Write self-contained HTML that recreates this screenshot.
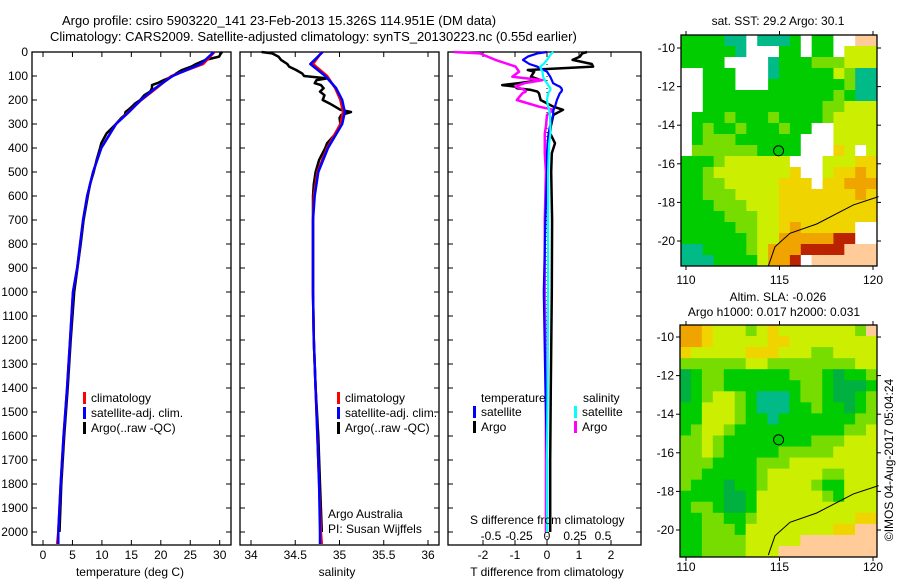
<!DOCTYPE html>
<html><head><meta charset="utf-8">
<style>
html,body{margin:0;padding:0;background:#fff;}
svg{display:block;font-family:"Liberation Sans",sans-serif;}
text{font-size:12px;fill:#000;}
</style></head>
<body>
<svg id="fig" width="900" height="580" viewBox="0 0 900 580" xmlns="http://www.w3.org/2000/svg">
<text x="62" y="25" style="font-size:13px">Argo profile: csiro 5903220_141 23-Feb-2013 15.326S 114.951E (DM data)</text>
<text x="50" y="41" style="font-size:13px">Climatology: CARS2009. Satellite-adjusted climatology: synTS_20130223.nc (0.55d earlier)</text>
<text x="778" y="25" text-anchor="middle">sat. SST: 29.2  Argo: 30.1</text>
<text x="778" y="301" text-anchor="middle">Altim. SLA: -0.026</text>
<text x="774" y="316" text-anchor="middle">Argo h1000: 0.017 h2000: 0.031</text>
<text transform="translate(893,460) rotate(-90)" text-anchor="middle">©IMOS 04-Aug-2017 05:04:24</text>
<g id="plots"></g>
</svg>
<script>
// ---------- data ----------
const depthTicks = [0,100,200,300,400,500,600,700,800,900,1000,1100,1200,1300,1400,1500,1600,1700,1800,1900,2000];
const tempTicks = [0,5,10,15,20,25,30];
const salTicks = [34,34.5,35,35.5,36];
const tdiffTicks = [-2,-1,0,1,2];
const sdiffTicks = [-0.5,-0.25,0,0.25,0.5];

const climDepth = [0,50,100,150,200,250,300,400,500,600,700,800,900,1000,1200,1400,1600,1800,2000,2050];
const climTemp  = [29.1,27.2,21.8,19.3,16.7,14.5,12.4,9.9,8.5,7.5,6.8,6.3,5.8,5.1,4.6,4.1,3.5,3.0,2.6,2.4];
const satTemp   = [29.0,26.8,22.0,19.1,16.6,14.6,12.4,9.9,8.5,7.5,6.8,6.3,5.8,5.1,4.6,4.1,3.5,3.0,2.6,2.6];
const climSal   = [34.80,34.70,34.86,34.95,35.01,35.04,35.01,34.86,34.75,34.71,34.70,34.70,34.70,34.70,34.71,34.73,34.75,34.77,34.79,34.80];
const satSal    = [34.81,34.67,34.84,34.96,35.03,35.06,35.03,34.87,34.76,34.72,34.70,34.70,34.70,34.70,34.71,34.73,34.75,34.77,34.78,34.78];

const argoDepth = [0,6,19,33,50,61,75,90,100,110,117,130,138,151,165,180,200,215,230,241,250,262,275,300,339,380,400,450,500,550,600,700,800,1000,1200,1400,1600,1800,2000];
const argoTemp  = [30.4,30.2,29.9,27.6,26.0,25.2,23.6,22.6,22.0,21.2,20.5,19.4,18.5,18.5,18.2,17.2,16.5,15.6,15.0,14.5,14.0,13.9,13.3,12.4,10.8,9.9,9.7,9.1,8.6,8.0,7.6,6.9,6.4,5.3,4.7,4.2,3.6,3.1,2.8];
const argoSal   = [34.12,34.24,34.31,34.34,34.41,34.43,34.51,34.58,34.60,34.86,34.74,34.72,34.79,34.82,34.78,34.83,34.81,34.89,34.96,35.01,35.13,35.02,35.00,35.01,34.96,34.86,34.84,34.77,34.73,34.71,34.70,34.70,34.70,34.70,34.71,34.73,34.76,34.78,34.80];

const dDepth = [0,6,19,33,50,61,75,82,103,117,130,138,144,151,158,165,172,200,228,241,262,310,339,380,422,500,700,1000,1400,1700,2000];
const satTdiff  = [0,-0.3,-0.6,-0.75,-0.55,-0.31,-0.1,0,0.1,0.15,0.19,0.3,0.4,0.45,0.47,0.45,0.4,0.31,0.25,0.2,0.19,0.09,0.05,0.02,0,0,-0.05,-0.1,-0.05,0,0];
const argoTdiff = [1.25,1.1,1.03,0.8,1.4,1.44,-0.6,-0.4,-0.5,-0.2,-0.9,-1.4,-1.0,-0.94,-0.5,-0.3,-0.25,-0.2,0.2,0.5,0.2,0.12,0.1,0.25,0.15,0.13,0.16,0.15,0.12,0.1,0.1];
const satSdiff  = [0.056,0.04,0.02,0,-0.03,-0.06,-0.05,-0.04,-0.035,-0.02,0,0.01,0.02,0.03,0.03,0.02,0.01,0.0,0.01,0.02,0.025,0.03,0.03,0.02,0.015,0.01,0.01,0.01,0.005,0.0,0.0];
const argoSdiff = [-0.83,-0.6,-0.53,-0.46,-0.35,-0.28,-0.26,-0.25,-0.31,-0.04,-0.2,-0.25,-0.28,-0.24,-0.2,-0.19,-0.22,-0.27,-0.07,0.06,0.0,-0.01,-0.02,-0.02,-0.02,-0.01,-0.02,-0.02,-0.01,-0.01,-0.01];

// SST map grid (rows north->south, 18 cols); w = no data, l = land
const sstGrid = [
"ggggttwtttgwggwwll",
"gggggtwwwggwggwyyy",
"ggggwwwwtgggGGGyyy",
"wwgggwwwtgggggyGtt",
"wwgggwwwgggggggGtt",
"wwggggggggggggGgtt",
"wwgggggggggggGGyyy",
"wgggGgggGggggGyyyy",
"wgGggGgggGggwwyyyy",
"wgGGGggggggwwwyyyy",
"wGGGGGGggggwwwYywy",
"gggGyyyyyywwwyyyYY",
"ggGyyyyyyyYwwyYYoY",
"ggGGyyyyyYYYwYYooo",
"ggGGGyyyyYYYYYYYoY",
"gggGGGyyyYYYYYYYYY",
"ggggGGGyyYYYYYYYYY",
"gggggGGyyYoYYYYYww",
"ggggggGyyooooorrww",
"ttggggGyooorrrrlll",
"tttggggyoorwllllll"];
const slaGrid = [
"ooYyyyGyYyyyyyyyGl",
"ooYyyyyyYYyyyyyyyy",
"YyyyyyYYYyyyGGyyyy",
"GGGGGGyyGGGGGGGGyy",
"dgGGggggggGGGgdggG",
"dgGGgggggggGGgdddg",
"dgGyyGgtttgGGgddgG",
"ggyyyGgtttggGggdgG",
"ggyyyGggtgggggggGG",
"gGyyGggggggggggGGy",
"GGyGggggggggGGGyyy",
"GGyGgggggGGGGGyyyy",
"GGGggggGGGyyyyyyyy",
"GGgggggGyyyyyGGyyy",
"GgggdggGyyyyGggyyy",
"ggggddgyyyyyyGgyyy",
"gGGgddgyyyyyyyyyyy",
"ggGGggGyyyyyyyyyYY",
"ggGGGgyyyyyyyyYYll",
"ggGGGGyyyyylllllll",
"ggGGGGyyylllllllll"];
const lonTicks = [110,115,120];
const latTicks = [-10,-12,-14,-16,-18,-20];
const argoLon = 114.951, argoLat = -15.326;
const coastLon = [114.4,114.76,115.56,116.99,118.95,120.3];
const coastLat = [-21.3,-20.3,-19.6,-19.12,-18.13,-17.7];

// ---------- helpers ----------
const NS='http://www.w3.org/2000/svg';
const root=document.getElementById('plots');
function el(tag,attrs,parent){const e=document.createElementNS(NS,tag);for(const k in attrs)e.setAttribute(k,attrs[k]);(parent||root).appendChild(e);return e;}
function txt(x,y,s,anchor,parent){const t=el('text',{x:x,y:y,'text-anchor':anchor||'start'},parent);t.textContent=s;return t;}
function lin(a0,a1,p0,p1){return v=>p0+(v-a0)*(p1-p0)/(a1-a0);}

const yTop=52, yBot=545;
const yD=lin(0,2000,52,532);

function panel(name,x0,x1){
  const g=el('g',{});
  
  
  el('rect',{x:x0,y:yTop,width:x1-x0,height:yBot-yTop,fill:'none',stroke:'#000','stroke-width':1.3},g);
  depthTicks.forEach(d=>{
    el('line',{x1:x0,x2:x0+5,y1:yD(d),y2:yD(d),stroke:'#000'},g);
    el('line',{x1:x1-5,x2:x1,y1:yD(d),y2:yD(d),stroke:'#000'},g);
  });
  return g;
}
function xTicks(g,ticks,sx,labelY){
  ticks.forEach(v=>{
    const x=sx(v);
    el('line',{x1:x,x2:x,y1:yTop,y2:yTop+5,stroke:'#000'},g);
    el('line',{x1:x,x2:x,y1:yBot-5,y2:yBot,stroke:'#000'},g);
    if(labelY){const t=txt(x,labelY,String(v),'middle',g);
      
      }
  });
}
function profile(g,xs,ds,sx,color,w,name){
  const pts=xs.map((v,i)=>sx(v).toFixed(1)+','+yD(ds[i]).toFixed(1)).join(' ');
  const p=el('polyline',{points:pts,fill:'none',stroke:color,'stroke-width':w,'stroke-linejoin':'round'},g);
  
  
}
function legendMark(g,x,y,color,label,name){
  el('rect',{x:x,y:y-10,width:3,height:12,fill:color},g);
  const t=txt(x+8,y,label,'start',g);
  
  
}

// depth axis labels
depthTicks.forEach(d=>{
  const t=txt(28,yD(d)+4,String(d),'end');
  
  
});

// ---- panel 1: temperature
const sT=lin(0,30,43,219.7);
const g1=panel('temperature-panel',32,231);
xTicks(g1,tempTicks,sT,559);
profile(g1,argoTemp,argoDepth,sT,'#000',2.5,'argo-temperature-line');
profile(g1,climTemp,climDepth,sT,'#f00',2.5,'climatology-temperature-line');
profile(g1,satTemp,climDepth,sT,'#00f',2.5,'satellite-temperature-line');
legendMark(g1,83,402,'#f00','climatology','legend-climatology');
legendMark(g1,83,417,'#00f','satellite-adj. clim.','legend-satellite');
legendMark(g1,83,432,'#000','Argo(..raw -QC)','legend-argo');
{const t=txt(130,576,'temperature (deg C)','middle',g1);}

// ---- panel 2: salinity
const sS=lin(34,36,251,428);
const g2=panel('salinity-panel',240,439);
xTicks(g2,salTicks,sS,559);
profile(g2,argoSal,argoDepth,sS,'#000',2.5,'argo-salinity-line');
profile(g2,climSal,climDepth,sS,'#f00',2.5,'climatology-salinity-line');
profile(g2,satSal,climDepth,sS,'#00f',2.5,'satellite-salinity-line');
legendMark(g2,337,402,'#f00','climatology','legend-climatology-sal');
legendMark(g2,337,417,'#00f','satellite-adj. clim.','legend-satellite-sal');
legendMark(g2,337,432,'#000','Argo(..raw -QC)','legend-argo-sal');
txt(328,518,'Argo Australia','start',g2);
txt(328,533,'PI: Susan Wijffels','start',g2);
{const t=txt(337,576,'salinity','middle',g2);}

// ---- panel 3: differences
const sTd=lin(-2,2,483,611);
const sSd=lin(-0.5,0.5,491,603);
const g3=panel('difference-panel',448,641);
xTicks(g3,tdiffTicks,sTd,559);
sdiffTicks.forEach(v=>{const t=txt(sSd(v),540,String(v),'middle',g3);});
el('line',{x1:sTd(0),x2:sTd(0),y1:yTop,y2:yBot,stroke:'#000','stroke-dasharray':'1,3'},g3);
profile(g3,argoTdiff,dDepth,sTd,'#000',2.5,'argo-t-diff-line');
profile(g3,argoSdiff,dDepth,sSd,'#f0f',2.5,'argo-s-diff-line');
profile(g3,satTdiff,dDepth,sTd,'#00f',2.2,'satellite-t-diff-line');
profile(g3,satSdiff,dDepth,sSd,'#0ff',2.2,'satellite-s-diff-line');
txt(481,402,'temperature','start',g3);
txt(583,402,'salinity','start',g3);
legendMark(g3,473,416,'#00f','satellite','legend-t-satellite');
legendMark(g3,473,431,'#000','Argo','legend-t-argo');
legendMark(g3,574,416,'#0ff','satellite','legend-s-satellite');
legendMark(g3,574,431,'#f0f','Argo','legend-s-argo');
txt(470,524,'S difference from climatology','start',g3);
{const t=txt(547,576,'T difference from climatology','middle',g3);}

// ---------- maps ----------
const colors={w:'#ffffff',l:'#ffcc99',g:'#00cc00',G:'#77dd00',y:'#ccee00',Y:'#f0d400',o:'#f0a400',r:'#bb2200',t:'#00bb88',d:'#00b040'};
function map(name,grid,x0,y0,w,h,lat10y,lat20y,labelY){
  const g=el('g',{});
  
  
  const sx=lin(110,120,686,873);
  const sy=lin(-10,-20,lat10y,lat20y);
  const rows=grid.length, cols=grid[0].length;
  const cw=w/cols, ch=h/rows;
  grid.forEach((row,r)=>{
    for(let c=0;c<cols;c++){
      const cell=el('rect',{x:(x0+c*cw).toFixed(2),y:(y0+r*ch).toFixed(2),width:(cw+0.4).toFixed(2),height:(ch+0.4).toFixed(2),fill:colors[row[c]]},g);
      
      
    }
  });
  const pts=coastLon.map((v,i)=>sx(v).toFixed(1)+','+sy(coastLat[i]).toFixed(1)).join(' ');
  el('polyline',{points:pts,fill:'none',stroke:'#000','stroke-width':1},g);
  el('rect',{x:x0,y:y0,width:w,height:h,fill:'none',stroke:'#000','stroke-width':1.3},g);
  const m=el('circle',{cx:sx(argoLon),cy:sy(argoLat),r:5,fill:'none',stroke:'#000','stroke-width':1},g);
  
  
  lonTicks.forEach(v=>{
    el('line',{x1:sx(v),x2:sx(v),y1:y0,y2:y0-4,stroke:'#000'},g);
    el('line',{x1:sx(v),x2:sx(v),y1:y0+h,y2:y0+h+4,stroke:'#000'},g);
    txt(sx(v),labelY,String(v),'middle',g);
  });
  latTicks.forEach(v=>{
    el('line',{x1:x0,x2:x0-4,y1:sy(v),y2:sy(v),stroke:'#000'},g);
    el('line',{x1:x0+w,x2:x0+w+4,y1:sy(v),y2:sy(v),stroke:'#000'},g);
    txt(x0-6,sy(v)+4,String(v),'end',g);
  });
}
map('sst-map',sstGrid,681,35,196,231,48,241,284);
map('sla-map',slaGrid,680,325,197,232,337,530,571);
</script>
</body></html>
